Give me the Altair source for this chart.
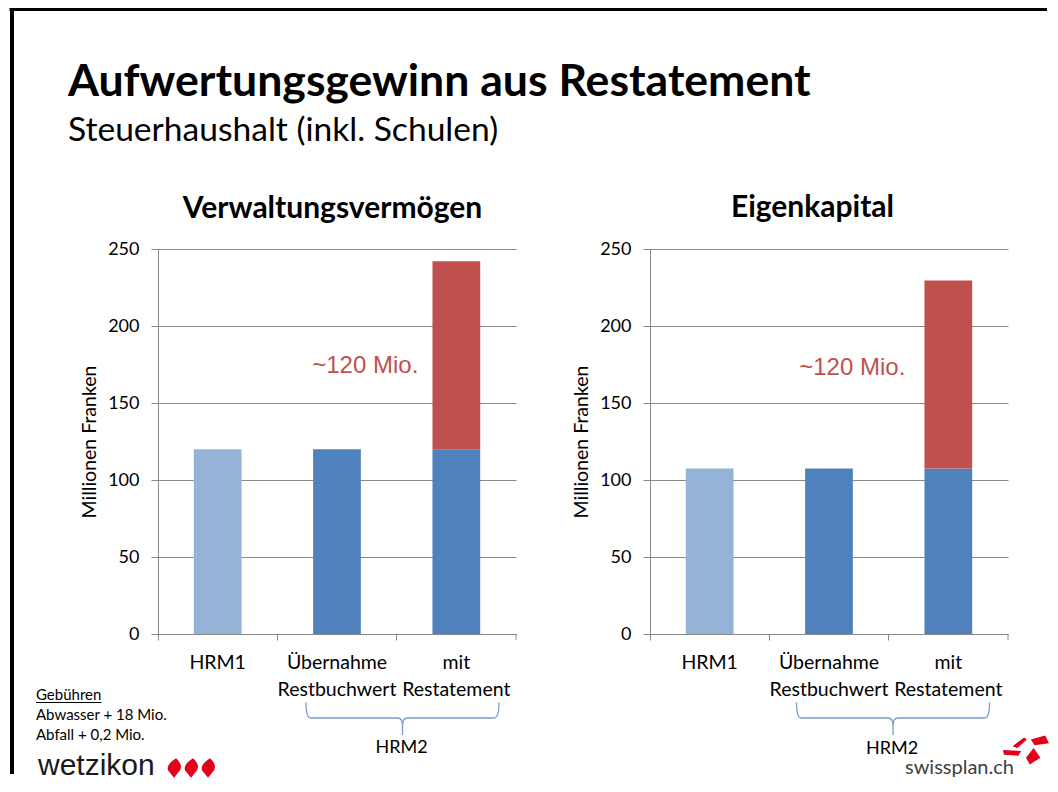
import altair as alt
import pandas as pd

# ---------------- data ----------------
categories = ["HRM1", "Übernahme Restbuchwert", "mit Restatement"]
base_group = ["HRM1", "HRM2", "HRM2"]
vv_base = [120, 120, 120]          # Verwaltungsvermögen
vv_gain = [0, 0, 122]
ek_base = [107.5, 107.5, 107.5]    # Eigenkapital
ek_gain = [0, 0, 122]
gain_label = "~120 Mio."
vv_label_value = 174
ek_label_value = 173
y_ticks = [0, 50, 100, 150, 200, 250]

slide_title = "Aufwertungsgewinn aus Restatement"
slide_subtitle = "Steuerhaushalt (inkl. Schulen)"
note_lines = ["Gebühren", "Abwasser + 18 Mio.", "Abfall + 0,2 Mio."]

BLUE_L = "#95B3D7"
BLUE = "#4F81BD"
RED = "#C0504D"
GRID = "#888888"
BRACE = "#7A9CCB"
FONT = "Lato"

W, H = 358, 385
one = pd.DataFrame({"k": [0]})


def bars_df(base, gain):
    rows = []
    for c, g, b, a in zip(categories, base_group, base, gain):
        rows.append({"cat": c, "segment": g, "value": b, "ord": 0})
        if a > 0:
            rows.append({"cat": c, "segment": "Aufwertung", "value": a, "ord": 1})
    return pd.DataFrame(rows)


def txt(s, x, y, size, weight="normal", font=FONT, color="#000000",
        align="left", baseline="alphabetic"):
    return alt.Chart(one).mark_text(
        text=s, font=font, fontSize=size, fontWeight=weight, color=color,
        align=align, baseline=baseline
    ).encode(x=alt.value(x), y=alt.value(y))


BRACE_PATH = ("M-1,-0.16 Q-1,0 -0.95,0 L-0.05,0 Q0,0 0,0.08 L0,0.175 "
              "M0,0.08 Q0,0 0.05,0 L0.95,0 Q1,0 1,-0.16")
FLAME_PATH = ("M0.2,-1 C0.75,-0.5 0.8,-0.1 0.6,0.25 L0,1 L-0.6,0.25 "
              "C-0.8,-0.15 -0.4,-0.6 0.2,-1 Z")
SWISS_PATH = ("M-0.56,-0.16 L-0.08,-0.52 L0.04,-0.44 L-0.36,-0.08 Z "
              "M0.2,-0.44 L0.8,-0.6 L0.96,-0.28 L0.36,-0.2 Z "
              "M-0.96,0 L-0.2,0.04 L-0.32,0.24 L-0.92,0.2 Z "
              "M0.32,-0.08 L0.6,0.32 L0.16,0.6 L0,0.32 Z")


def brace(cx, cy, width):
    return alt.Chart(one).mark_point(
        shape=BRACE_PATH, size=width * width, filled=False, stroke=BRACE,
        strokeWidth=1.3, opacity=1
    ).encode(x=alt.value(cx), y=alt.value(cy))


def panel(base, gain, label_value, label_dx, title, title_x, title_y,
          brace_x, hrm2_y, extra):
    df = bars_df(base, gain)
    xenc = alt.X(
        "cat:N", sort=categories, title=None,
        scale=alt.Scale(paddingInner=0, paddingOuter=0),
        axis=alt.Axis(
            labelExpr="split(datum.label, ' ')", labelAngle=0,
            labelFont=FONT, labelFontSize=19.5, labelColor="#000000",
            labelPadding=13, labelLineHeight=27, labelOverlap=False,
            labelBound=False, labelFlush=False, labelLimit=400,
            tickSize=6, tickColor=GRID, domainColor=GRID, bandPosition=0,
            grid=False,
        ),
    )
    yenc = alt.Y(
        "value:Q", stack="zero", title="Millionen Franken",
        scale=alt.Scale(domain=[0, 250], nice=False),
        axis=alt.Axis(
            values=y_ticks, grid=True, gridColor=GRID, domainColor=GRID,
            tickColor=GRID, tickSize=7, labelPadding=12, labelFont=FONT,
            labelFontSize=18, labelColor="#000000", titleFont=FONT,
            titleFontSize=19.5, titleFontWeight="normal", titleColor="#000000",
            titlePadding=8,
        ),
    )
    bars = alt.Chart(df).mark_bar(width=alt.RelativeBandSize(0.4)).encode(
        x=xenc, y=yenc,
        color=alt.Color("segment:N", legend=None,
                        scale=alt.Scale(domain=["HRM1", "HRM2", "Aufwertung"],
                                        range=[BLUE_L, BLUE, RED])),
        order=alt.Order("ord:Q"),
    )
    lab = alt.Chart(pd.DataFrame({"cat": ["mit Restatement"],
                                  "value": [label_value],
                                  "t": [gain_label]})).mark_text(
        font="Liberation Sans", fontSize=24, color=RED, align="right",
        baseline="middle", dx=label_dx,
    ).encode(x=alt.X("cat:N", sort=categories), y=alt.Y("value:Q"), text="t:N")
    end_tick = alt.Chart(one).mark_rule(color=GRID).encode(
        x=alt.value(W), y=alt.value(H), y2=alt.value(H + 6))
    layers = [bars, lab, end_tick,
              txt(title, title_x, title_y, 30, weight="bold", align="center"),
              brace(brace_x, 469, 193),
              txt("HRM2", brace_x - 1, hrm2_y, 18, align="center")]
    layers += extra
    return alt.layer(*layers).properties(width=W, height=H)


left_extra = [
    # slide frame
    alt.Chart(one).mark_rule(color="#000000", strokeWidth=4).encode(
        x=alt.value(-146), y=alt.value(-239), y2=alt.value(525)),
    alt.Chart(one).mark_rule(color="#000000", strokeWidth=3).encode(
        x=alt.value(-148.5), x2=alt.value(889), y=alt.value(-239.5)),
    txt(slide_title, -90, -153, 44.6, weight="bold"),
    txt(slide_subtitle, -90, -108, 33.6),
    txt(note_lines[0], -122, 451, 15),
    alt.Chart(one).mark_rule(color="#000000", strokeWidth=1).encode(
        x=alt.value(-122), x2=alt.value(-56.5), y=alt.value(453.5)),
    txt(note_lines[1], -122, 471, 15),
    txt(note_lines[2], -122, 491, 15),
    txt("wetzikon", -120, 526, 30, font="Liberation Sans", color="#1a1a1a"),
] + [
    alt.Chart(one).mark_point(shape=FLAME_PATH, size=380, filled=True,
                              color="#E2001A", opacity=1, strokeWidth=0).encode(
        x=alt.value(fx), y=alt.value(519))
    for fx in [16, 33, 50]
]

right_extra = [
    txt("swissplan.ch", 255, 525, 20, color="#404040"),
    alt.Chart(one).mark_point(shape=SWISS_PATH, size=2300, filled=True,
                              color="#E2001A", opacity=1, strokeWidth=0).encode(
        x=alt.value(376), y=alt.value(501)),
]

left = panel(vv_base, vv_gain, vv_label_value, -38, "Verwaltungsvermögen",
             174.5, -31, 244.5, 504, left_extra)
right = panel(ek_base, ek_gain, ek_label_value, -43, "Eigenkapital",
              162.5, -32, 243, 505, right_extra)

chart = alt.hconcat(left, right, spacing=134, bounds="flush").properties(
    padding=0, background="white"
).configure_view(stroke=None)

chart.save("out.html", embed_options={"renderer": "svg", "actions": False})
